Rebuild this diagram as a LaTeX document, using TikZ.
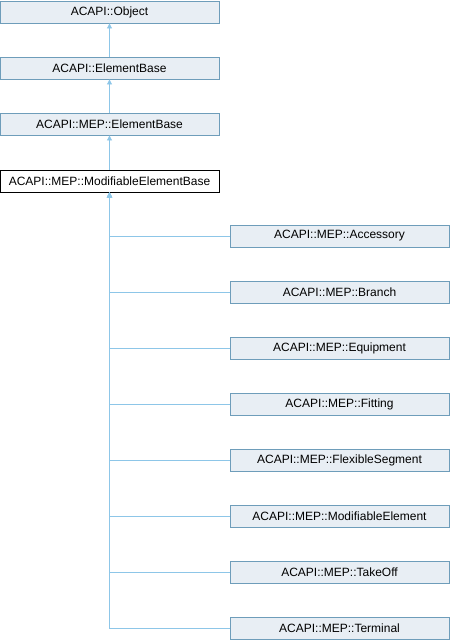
\documentclass[tikz,border=0pt]{standalone}
\usepackage{fontspec}
\setmainfont{Liberation Sans}
\usetikzlibrary{arrows.meta}
\definecolor{boxfill}{HTML}{E8EEF4}
\definecolor{boxline}{HTML}{6E9DBA}
\definecolor{edgecol}{HTML}{8DC6E8}
\begin{document}
\begin{tikzpicture}[x=1pt,y=-1pt,
  cls/.style={draw=boxline, fill=boxfill, line width=0.9pt, minimum width=219pt, minimum height=22pt, inner sep=0pt, font=\fontsize{12}{14}\selectfont},
  cur/.style={cls, draw=black, fill=white},
  inh/.style={draw=edgecol, line width=0.9pt, {Triangle[width=5pt,length=5pt]}-}
]
\useasboundingbox (0,0) rectangle (450,640);
\node[cls] (obj) at (109.5,12) {ACAPI::Object};
\node[cls] (eb) at (109.5,68) {ACAPI::ElementBase};
\node[cls] (meb) at (109.5,124) {ACAPI::MEP::ElementBase};
\node[cur] (mod) at (109.5,181) {ACAPI::MEP::ModifiableElementBase};
\node[cls] (acc) at (339.5,236) {ACAPI::MEP::Accessory};
\node[cls] (bra) at (339.5,292) {ACAPI::MEP::Branch};
\node[cls] (equ) at (339.5,348) {ACAPI::MEP::Equipment};
\node[cls] (fit) at (339.5,404) {ACAPI::MEP::Fitting};
\node[cls] (flex) at (339.5,460) {ACAPI::MEP::FlexibleSegment};
\node[cls] (mel) at (339.5,516) {ACAPI::MEP::ModifiableElement};
\node[cls] (tak) at (339.5,572) {ACAPI::MEP::TakeOff};
\node[cls] (ter) at (339.5,628) {ACAPI::MEP::Terminal};
\draw[inh] (obj.south) -- (eb.north);
\draw[inh] (eb.south) -- (meb.north);
\draw[inh] (meb.south) -- (mod.north);
\foreach \c in {acc,bra,equ,fit,flex,mel,tak,ter}
  \draw[inh] (mod.south) |- (\c.west);
\end{tikzpicture}
\end{document}
